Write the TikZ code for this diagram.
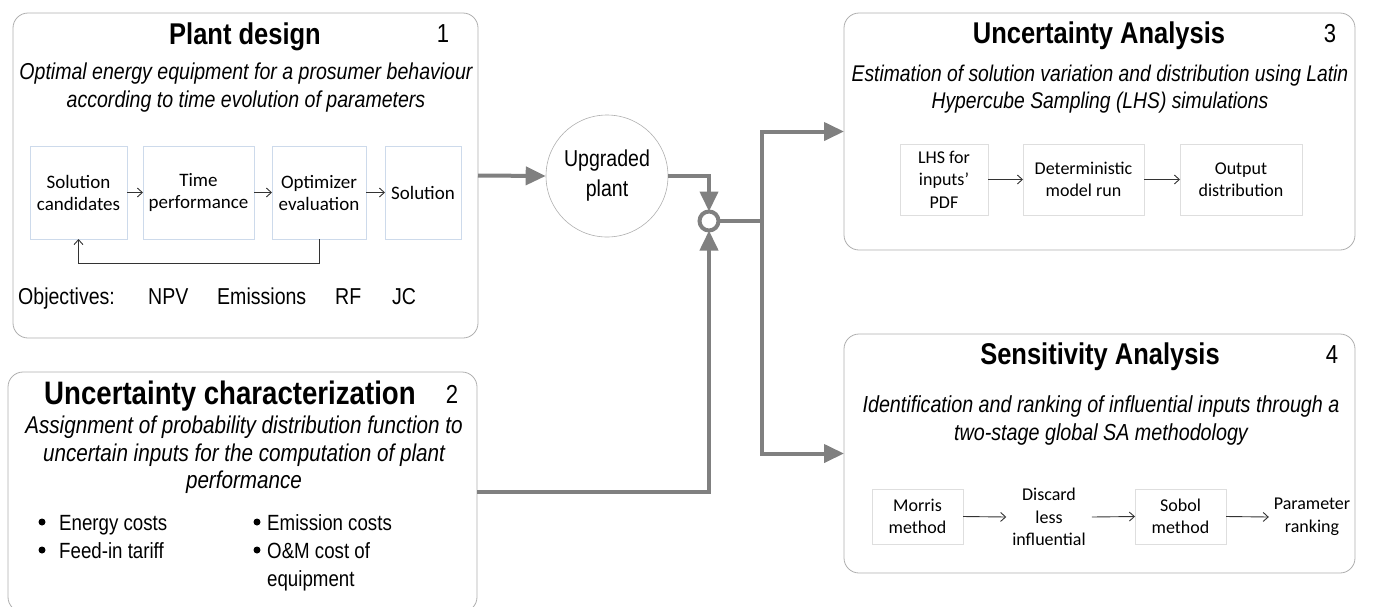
\documentclass[tikz,border=0pt]{standalone}
\usepackage{fontspec}
\setmainfont{Liberation Sans}[FakeStretch=0.85]
\newfontfamily\calfont{Carlito}
\usetikzlibrary{arrows.meta}
\definecolor{conn}{RGB}{128,128,128}
\definecolor{outerline}{RGB}{175,175,175}
\definecolor{bluebox}{RGB}{205,218,235}
\definecolor{graybox}{RGB}{222,222,222}
\begin{document}
\begin{tikzpicture}[x=1pt,y=-1pt,
  outerbox/.style={draw=outerline,line width=0.8pt,rounded corners=15pt,inner sep=0pt,outer sep=0pt,fill=white},
  bluestep/.style={draw=bluebox,line width=1pt,inner sep=0pt,outer sep=0pt,align=center,font=\calfont\fontsize{19}{22}\selectfont,minimum height=93pt},
  graystep/.style={draw=graybox,line width=1pt,inner sep=0pt,outer sep=0pt,align=center,font=\calfont\fontsize{18}{22.5}\selectfont},
  plainstep/.style={inner sep=4pt,outer sep=0pt,align=center,font=\calfont\fontsize{18}{22.5}\selectfont},
  titletext/.style={font=\fontsize{30}{36}\selectfont\bfseries,inner sep=0pt},
  numtext/.style={font=\fontsize{26}{30}\selectfont,inner sep=0pt},
  desctext/.style={font=\fontsize{23}{28}\selectfont\itshape,align=center,inner sep=0pt},
  bodytext/.style={font=\fontsize{22}{28}\selectfont,inner sep=0pt,anchor=base west},
  bulletdot/.style={circle,fill=black,minimum size=7pt,inner sep=0pt},
  objtext/.style={font=\fontsize{23}{28}\selectfont,inner sep=0pt,anchor=base west},
  thin arrow/.style={-{Straight Barb[length=5pt,width=9pt]},line width=0.9pt,black!80},
  thick arrow/.style={-{Triangle[length=20pt,width=18pt]},line width=4pt,conn},
  thick line/.style={line width=4pt,conn}
]
\useasboundingbox (0,0) rectangle (1373,606);
\clip (0,0) rectangle (1373,606);

% ---------- Box 1 ----------
\node[outerbox,minimum width=465pt,minimum height=325pt] (b1) at (245.5,175.5) {};
\node[titletext] (t1) at (245,37) {Plant design};
\node[numtext] (n1) at (443,34) {1};
\node[desctext] (d1) at (246,88) {Optimal energy equipment for a prosumer behaviour\\according to time evolution of parameters};
\node[bluestep,minimum width=97pt] (sc) at (78.5,192.5) {Solution\\candidates};
\node[bluestep,minimum width=111pt] (tp) at (198.5,192.5) {Time\\performance};
\node[bluestep,minimum width=94pt] (oe) at (319,192.5) {Optimizer\\evaluation};
\node[bluestep,minimum width=76pt] (so) at (423,192.5) {Solution};
\draw[thin arrow] (sc.east) -- (tp.west);
\draw[thin arrow] (tp.east) -- (oe.west);
\draw[thin arrow] (oe.east) -- (so.west);
\draw[thin arrow] (oe.south) -- ++(0,24) -| (sc.south);
\node[objtext] (obj) at (18,304) {Objectives:};
\node[objtext] (npv) at (148,304) {NPV};
\node[objtext] (emi) at (217,304) {Emissions};
\node[objtext] (rf) at (335,304) {RF};
\node[objtext] (jc) at (392,304) {JC};

% ---------- Box 2 ----------
\node[outerbox,minimum width=469pt,minimum height=240pt] (b2) at (242.5,492) {};
\node[titletext,font=\fontsize{32.5}{36}\selectfont\bfseries] (t2) at (230,396) {Uncertainty characterization};
\node[numtext] (n2) at (452,394) {2};
\node[desctext,font=\fontsize{24.3}{27.5}\selectfont\itshape] (d2) at (244,455) {Assignment of probability distribution function to\\uncertain inputs for the computation of plant\\performance};
\node[bulletdot] (bu1) at (42,522) {};
\node[bodytext] (i1) at (59,530) {Energy costs};
\node[bulletdot] (bu2) at (42,550) {};
\node[bodytext] (i2) at (59,558) {Feed-in tariff};
\node[bulletdot] (bu3) at (257,522) {};
\node[bodytext] (i3) at (267,530) {Emission costs};
\node[bulletdot] (bu4) at (257,550) {};
\node[bodytext] (i4) at (267,558) {O\&M cost of};
\node[bodytext] (i5) at (267,586) {equipment};

% ---------- Box 3 ----------
\node[outerbox,minimum width=511pt,minimum height=237pt] (b3) at (1099.5,131.5) {};
\node[titletext] (t3) at (1099,36) {Uncertainty Analysis};
\node[numtext] (n3) at (1330,34) {3};
\node[desctext,font=\fontsize{22.7}{27}\selectfont\itshape] (d3) at (1100,89.5) {Estimation of solution variation and distribution using Latin\\Hypercube Sampling (LHS) simulations};
\node[graystep,minimum width=88pt,minimum height=71pt] (lhs) at (944,179.5) {LHS for\\inputs’\\PDF};
\node[graystep,minimum width=121pt,minimum height=71pt] (det) at (1083.5,179.5) {Deterministic\\model run};
\node[graystep,minimum width=122pt,minimum height=71pt] (out) at (1241,179.5) {Output\\distribution};
\draw[thin arrow] (lhs.east) -- (det.west);
\draw[thin arrow] (det.east) -- (out.west);

% ---------- Box 4 ----------
\node[outerbox,minimum width=511pt,minimum height=239pt] (b4) at (1099.5,453.5) {};
\node[titletext] (t4) at (1100,357) {Sensitivity Analysis};
\node[numtext] (n4) at (1332,355) {4};
\node[desctext,font=\fontsize{23.2}{28}\selectfont\itshape] (d4) at (1101,420) {Identification and ranking of influential inputs through a\\two-stage global SA methodology};
\node[graystep,minimum width=91pt,minimum height=55pt] (mor) at (917.5,516.5) {Morris\\method};
\node[plainstep,inner sep=6pt] (dis) at (1049,517) {Discard\\less\\influential};
\node[graystep,minimum width=91pt,minimum height=55pt] (sob) at (1180.5,516.5) {Sobol\\method};
\node[plainstep,inner sep=5pt] (par) at (1312,517) {Parameter\\ranking};
\draw[thin arrow] (mor.east) -- (dis.west);
\draw[thin arrow] (dis.east) -- (sob.west);
\draw[thin arrow] (sob.east) -- (par.west);

% ---------- Middle ----------
\node[circle,draw=outerline,line width=0.6pt,minimum size=122pt,inner sep=0pt,align=center,font=\fontsize{23}{30}\selectfont] (up) at (607,176) {Upgraded\\plant};
\node[circle,draw=conn,line width=4pt,fill=white,minimum size=19pt,inner sep=0pt,outer sep=0pt] (jn) at (709,221) {};
\coordinate (split) at (762,221);

\draw[thick arrow] (b1.east) -- (up.west);
\draw[thick arrow] (up.east) -| (jn.north);
\draw[thick arrow] (b2.east) -| (jn.south);
\draw[thick line] (jn.east) -- (split);
\draw[thick arrow] (split) |- (b3.west);
\draw[thick arrow] (split) |- (b4.west);
\end{tikzpicture}
\end{document}
